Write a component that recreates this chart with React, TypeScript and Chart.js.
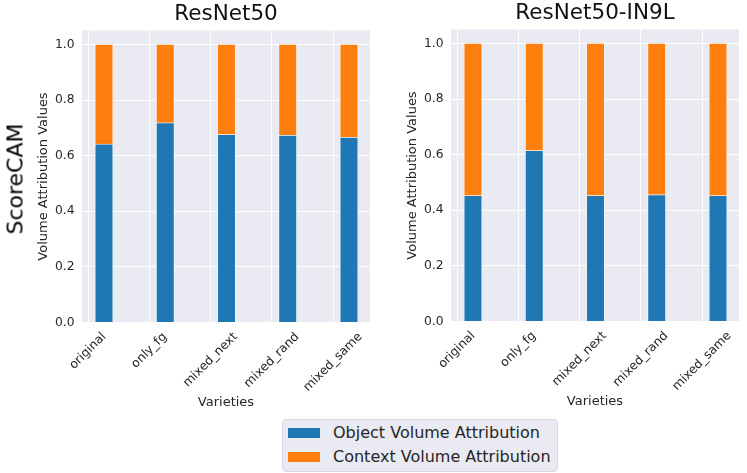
import React, { useEffect, useRef } from "react";
import { Chart, registerables } from "chart.js";

Chart.register(...registerables);

// data
const varieties = ["original", "only_fg", "mixed_next", "mixed_rand", "mixed_same"];
const seriesLabels = ["Object Volume Attribution", "Context Volume Attribution"];
const seriesColors = ["#1f77b4", "#ff7f0e"];
const resnet50Object = [0.642, 0.718, 0.676, 0.673, 0.666];
const resnet50Context = [0.358, 0.282, 0.324, 0.327, 0.334];
const in9lObject = [0.453, 0.615, 0.453, 0.456, 0.453];
const in9lContext = [0.547, 0.385, 0.547, 0.544, 0.547];
const yTicks = [0, 0.2, 0.4, 0.6, 0.8, 1.0];

const FONT = "'DejaVu Sans', sans-serif";
const TEXT = "#262626";
const TICK_SIZE = 12.3;

// seaborn darkgrid background
const plotBackground = {
  id: "plotBackground",
  beforeDraw(chart: Chart) {
    const { ctx, chartArea } = chart;
    ctx.save();
    ctx.fillStyle = "#eaeaf2";
    ctx.fillRect(chartArea.left, chartArea.top, chartArea.width, chartArea.height);
    ctx.restore();
  },
};

// matplotlib-style rotated labels: centred on the tick, not right-aligned
const centeredTickLabels = {
  id: "centeredTickLabels",
  afterDraw(chart: Chart) {
    const scale: any = chart.scales.x;
    const { ctx } = chart;
    ctx.save();
    ctx.font = `${TICK_SIZE}px ${FONT}`;
    ctx.fillStyle = TEXT;
    ctx.textAlign = "center";
    ctx.textBaseline = "middle";
    varieties.forEach((label, i) => {
      const x = scale.getPixelForValue(i);
      const w = ctx.measureText(label).width;
      const half = ((w + TICK_SIZE) * Math.SQRT1_2) / 2;
      const y = scale.top + 8 + half;
      ctx.save();
      ctx.translate(x, y);
      ctx.rotate(-Math.PI / 4);
      ctx.fillText(label, 0, 0);
      ctx.restore();
    });
    ctx.restore();
  },
};

type PanelProps = {
  title: string;
  objectValues: number[];
  contextValues: number[];
  left: number;
  top: number;
};

const Panel: React.FC<PanelProps> = ({ title, objectValues, contextValues, left, top }) => {
  const canvasRef = useRef<HTMLCanvasElement>(null);

  useEffect(() => {
    if (!canvasRef.current) return;

    const toPoints = (values: number[]) => values.map((v, i) => ({ x: i, y: v }));

    const chart = new Chart(canvasRef.current, {
      type: "bar",
      data: {
        datasets: [
          {
            label: seriesLabels[0],
            data: toPoints(objectValues),
            backgroundColor: seriesColors[0],
            borderColor: "rgba(255,255,255,0.85)",
            borderWidth: 0.8,
            barThickness: 18,
            xAxisID: "bars",
          },
          {
            label: seriesLabels[1],
            data: toPoints(contextValues),
            backgroundColor: seriesColors[1],
            borderColor: "rgba(255,255,255,0.85)",
            borderWidth: 0.8,
            barThickness: 18,
            xAxisID: "bars",
          },
        ] as any,
      },
      options: {
        animation: false,
        responsive: false,
        maintainAspectRatio: false,
        layout: { padding: { left: 0, right: 6, top: 0, bottom: 0 } },
        plugins: {
          legend: { display: false },
          tooltip: { enabled: false },
        },
        scales: {
          bars: {
            type: "linear",
            display: false,
            stacked: true,
            offset: false,
            grid: { offset: false },
            min: -0.359,
            max: 4.343,
          },
          // empty top axis: its title is the panel title, centred over the plot
          heading: {
            type: "linear",
            position: "top",
            min: 0,
            max: 1,
            grid: { display: false, drawTicks: false },
            border: { display: false },
            ticks: { display: false },
            title: {
              display: true,
              text: title,
              color: "#111111",
              font: { family: FONT, size: 21.5, weight: "normal" },
              padding: { top: 2, bottom: 2.7 },
            },
            afterFit: (scale: any) => {
              scale.height = 30.5;
            },
          },
          x: {
            type: "linear",
            position: "bottom",
            offset: false,
            min: -0.098,
            max: 4.604,
            grid: { color: "#ffffff", lineWidth: 1, drawTicks: false, offset: false },
            border: { display: false },
            afterBuildTicks: (scale: any) => {
              scale.ticks = varieties.map((_, i) => ({ value: i }));
            },
            ticks: { display: false },
            title: {
              display: true,
              text: "Varieties",
              color: TEXT,
              font: { family: FONT, size: 13 },
              padding: { top: 0, bottom: 5.2 },
            },
            afterFit: (scale: any) => {
              scale.height = 93.5;
            },
          },
          y: {
            stacked: true,
            min: 0,
            max: 1.05,
            grid: { color: "#ffffff", lineWidth: 1, drawTicks: false },
            border: { display: false },
            afterBuildTicks: (scale: any) => {
              scale.ticks = yTicks.map((v) => ({ value: v }));
            },
            ticks: {
              padding: 7.5,
              color: TEXT,
              font: { family: FONT, size: TICK_SIZE },
              callback: (v: any) => Number(v).toFixed(1),
            },
            title: {
              display: true,
              text: "Volume Attribution Values",
              color: TEXT,
              font: { family: FONT, size: 13 },
              padding: { top: 36.2, bottom: 0 },
            },
            afterFit: (scale: any) => {
              scale.width = 82;
            },
          },
        } as any,
      },
      plugins: [plotBackground, centeredTickLabels],
    });

    return () => {
      chart.destroy();
    };
  }, [title, objectValues, contextValues]);

  return (
    <canvas
      ref={canvasRef}
      width={376}
      height={416}
      style={{ position: "absolute", left, top, width: 376, height: 416 }}
    />
  );
};

const App: React.FC = () => {
  return (
    <div
      style={{
        position: "absolute",
        left: 0,
        top: 0,
        width: 747,
        height: 473,
        background: "#ffffff",
        overflow: "hidden",
        fontFamily: FONT,
      }}
    >
      <Panel title="ResNet50" objectValues={resnet50Object} contextValues={resnet50Context} left={0} top={0} />
      <Panel title="ResNet50-IN9L" objectValues={in9lObject} contextValues={in9lContext} left={369} top={-1} />

      <div
        style={{
          position: "absolute",
          left: 15,
          top: 178.5,
          transform: "translate(-50%, -50%) rotate(-90deg)",
          fontSize: 22,
          color: "#000000",
          whiteSpace: "nowrap",
        }}
      >
        ScoreCAM
      </div>

      <div
        style={{
          position: "absolute",
          left: 282,
          top: 419,
          width: 276,
          height: 53,
          boxSizing: "border-box",
          background: "#eaeaf2",
          border: "1px solid #d8d8e0",
          borderRadius: 4,
        }}
      >
        {seriesLabels.map((label, i) => (
          <div key={label}>
            <div
              style={{
                position: "absolute",
                left: 5,
                top: 8 + i * 24,
                width: 32,
                height: 10,
                background: seriesColors[i],
              }}
            />
            <div
              style={{
                position: "absolute",
                left: 50,
                top: 3 + i * 24,
                fontSize: 16,
                lineHeight: "20px",
                color: TEXT,
                whiteSpace: "nowrap",
              }}
            >
              {label}
            </div>
          </div>
        ))}
      </div>
    </div>
  );
};

export default App;
